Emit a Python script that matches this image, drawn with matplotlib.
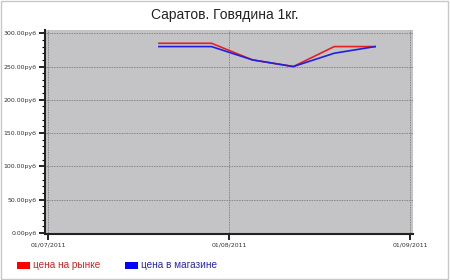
import matplotlib
matplotlib.use("Agg")
import matplotlib.pyplot as plt
import matplotlib.dates as mdates
from matplotlib.patches import Rectangle
import datetime as dt

dates = ["2011-07-20", "2011-07-29", "2011-08-05", "2011-08-12", "2011-08-19", "2011-08-26"]
market = [285, 285, 260, 250, 280, 280]
store = [280, 280, 260, 250, 270, 280]
ytick_vals = [0, 50, 100, 150, 200, 250, 300]
xtick_dates = ["2011-07-01", "2011-08-01", "2011-09-01"]
title = "Саратов. Говядина 1кг."
labels = ["цена на рынке", "цена в магазине"]

x = [dt.datetime.strptime(d, "%Y-%m-%d") for d in dates]
xt = [dt.datetime.strptime(d, "%Y-%m-%d") for d in xtick_dates]

fig = plt.figure(figsize=(4.5, 2.8), dpi=100)
fig.patch.set_facecolor("white")
# outer frame
fig.add_artist(Rectangle((0.002, 0.004), 0.994, 0.992, transform=fig.transFigure,
                         fill=False, edgecolor="#c8c8c8", linewidth=1.0))

ax = fig.add_axes([0.1, 0.165, 0.818, 0.728])
ax.set_facecolor("#c4c3c6")
ax.plot(x, market, color="#e82020", linewidth=1.2, zorder=3)
ax.plot(x, store, color="#2020e0", linewidth=1.2, zorder=3)

ax.set_xlim(xt[0] - dt.timedelta(days=0.5), xt[-1] + dt.timedelta(days=0.5))
ax.set_ylim(-1.5, 305)
ax.set_yticks(ytick_vals)
ax.set_yticklabels([f"{v:.2f}руб" for v in ytick_vals], fontsize=4.5, color="#333333")
ax.set_yticks(range(0, 301, 10), minor=True)
ax.set_xticks(xt)
ax.set_xticklabels([d.strftime("%d/%m/%Y") for d in xt], fontsize=4.5, color="#333333")
ax.tick_params(axis="both", which="major", length=4, width=1.2, pad=2)
ax.tick_params(axis="y", which="minor", length=2.5, width=0.8)
ax.grid(True, which="major", color="#707070", linestyle=(0, (1, 1)), linewidth=0.6)
for s in ["top", "right"]:
    ax.spines[s].set_visible(False)
for s in ["left", "bottom"]:
    ax.spines[s].set_linewidth(1.5)
    ax.spines[s].set_color("#222222")

fig.text(0.5, 1 - 15.5/280, title, ha="center", va="center", fontsize=10,
         color="#222222", family="Liberation Sans")

# legend
fig.add_artist(Rectangle((17/450, 1-269/280), 13/450, 7/280, transform=fig.transFigure,
                         facecolor="#ff0000", edgecolor="none"))
fig.text(33/450, 1-265.5/280, labels[0], ha="left", va="center", fontsize=7.2,
         color="#c82828", family="Liberation Sans")
fig.add_artist(Rectangle((125/450, 1-269/280), 13/450, 7/280, transform=fig.transFigure,
                         facecolor="#0000ff", edgecolor="none"))
fig.text(141/450, 1-265.5/280, labels[1], ha="left", va="center", fontsize=7.2,
         color="#2828a8", family="Liberation Sans")

fig.savefig("out.png", dpi=100)
